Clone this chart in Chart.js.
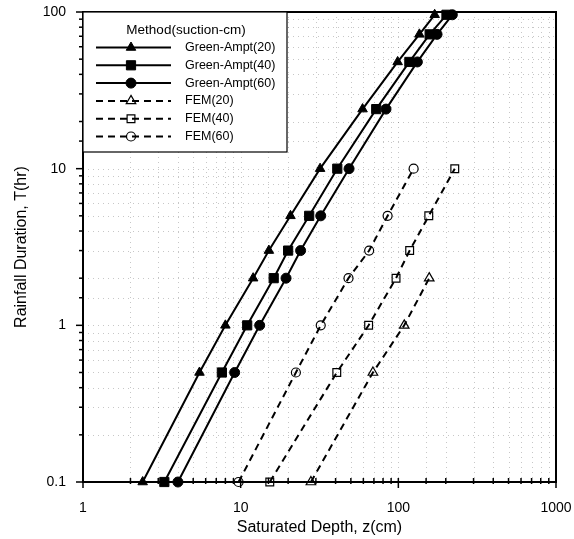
<!DOCTYPE html>
<html lang="en">
<head>
  <meta charset="UTF-8">
  <title>Saturated Depth vs Rainfall Duration</title>
  <script src="https://cdn.jsdelivr.net/npm/chart.js@4/dist/chart.umd.min.js"></script>
  <style>
    html, body { margin: 0; padding: 0; background: #fff; }
    #wrap { width: 574px; height: 539px; }
  </style>
</head>
<body>
  <div id="wrap"><canvas id="chart" width="574" height="539"></canvas></div>
  <script>
    // rainfall duration (hr)
    var gaDurations = [0.1, 0.5, 1, 2, 3, 5, 10, 24, 48, 72, 96];
    var femDurations = [0.1, 0.5, 1, 2, 3, 5, 10];

    // saturated depth (cm), Green-Ampt for each suction head
    var gaDepth20 = [2.39, 5.48, 8.0, 12.0, 15.1, 20.7, 31.9, 59.3, 99, 136, 170];
    var gaDepth40 = [3.28, 7.6, 11.0, 16.2, 20.0, 27.2, 41, 72.4, 117.5, 158, 202];
    var gaDepth60 = [4.0, 9.16, 13.2, 19.4, 24.0, 32.2, 48.7, 83.5, 132, 176, 220];

    // saturated depth (cm), FEM
    var femDepth20 = [27.9, 69, 109, 157];
    var femDepth40 = [15.3, 40.7, 64.8, 96.7, 118, 156, 228];
    var femDepth60 = [9.7, 22.4, 32.2, 48.3, 65.3, 85.5, 125];

    var xTickLabels = [1, 10, 100, 1000];
    var yTickLabels = [0.1, 1, 10, 100];

    var FONT = "'Liberation Sans', Arial, sans-serif";

    function pairs(depths, durations) {
      return depths.map(function (d, i) { return { x: d, y: durations[i] }; });
    }

    function isDecade(v) {
      var l = Math.log10(v);
      return Math.abs(l - Math.round(l)) < 1e-6;
    }

    function solid(label, data, style, radius) {
      return {
        label: label, data: data,
        borderColor: '#000', borderWidth: 2,
        pointStyle: style, pointRadius: radius,
        pointBackgroundColor: '#000', pointBorderColor: '#000', pointBorderWidth: 1,
        clip: false
      };
    }

    function dashed(label, data, style, radius) {
      return {
        label: label, data: data,
        borderColor: '#000', borderWidth: 2, borderDash: [7, 5],
        pointStyle: style, pointRadius: radius,
        pointBackgroundColor: 'rgba(0,0,0,0)', pointBorderColor: '#000', pointBorderWidth: 1.2,
        clip: false
      };
    }

    var datasets = [
      solid('Green-Ampt(20)', pairs(gaDepth20, gaDurations), 'triangle', 5.5),
      solid('Green-Ampt(40)', pairs(gaDepth40, gaDurations), 'rect', 6.5),
      solid('Green-Ampt(60)', pairs(gaDepth60, gaDurations), 'circle', 5),
      dashed('FEM(20)', pairs(femDepth20, femDurations), 'triangle', 5.5),
      dashed('FEM(40)', pairs(femDepth40, femDurations), 'rect', 5.5),
      dashed('FEM(60)', pairs(femDepth60, femDurations), 'circle', 4.5)
    ];

    function marker(ctx, style, x, y, r, filled) {
      ctx.beginPath();
      if (style === 'triangle') {
        ctx.moveTo(x, y - r);
        ctx.lineTo(x + r * 0.866, y + r * 0.5);
        ctx.lineTo(x - r * 0.866, y + r * 0.5);
        ctx.closePath();
      } else if (style === 'rect') {
        var s = r * Math.SQRT1_2;
        ctx.rect(x - s, y - s, 2 * s, 2 * s);
      } else {
        ctx.arc(x, y, r, 0, Math.PI * 2);
      }
      if (filled) { ctx.fillStyle = '#000'; ctx.fill(); }
      ctx.lineWidth = filled ? 1 : 1.2;
      ctx.strokeStyle = '#000';
      ctx.stroke();
    }

    // dotted grid, frame, ticks and the boxed legend
    var framePlugin = {
      id: 'frame',
      beforeDatasetsDraw: function (chart) {
        var ctx = chart.ctx, a = chart.chartArea;
        var xs = chart.scales.x, ys = chart.scales.y;
        ctx.save();
        ctx.strokeStyle = 'rgba(0,0,0,0.22)';
        ctx.lineWidth = 1;
        ctx.setLineDash([1, 4]);
        xs.ticks.forEach(function (t) {
          var px = Math.round(xs.getPixelForValue(t.value)) + 0.5;
          ctx.beginPath(); ctx.moveTo(px, a.top); ctx.lineTo(px, a.bottom); ctx.stroke();
        });
        ys.ticks.forEach(function (t) {
          var py = Math.round(ys.getPixelForValue(t.value)) + 0.5;
          ctx.beginPath(); ctx.moveTo(a.left, py); ctx.lineTo(a.right, py); ctx.stroke();
        });
        ctx.restore();
      },
      afterDatasetsDraw: function (chart) {
        var ctx = chart.ctx, a = chart.chartArea;
        var xs = chart.scales.x, ys = chart.scales.y;
        ctx.save();
        ctx.strokeStyle = '#000';
        ctx.lineWidth = 2;
        ctx.strokeRect(a.left, a.top, a.right - a.left, a.bottom - a.top);

        ctx.lineWidth = 1.5;
        xs.ticks.forEach(function (t) {
          var px = xs.getPixelForValue(t.value);
          var major = isDecade(t.value);
          ctx.beginPath();
          ctx.moveTo(px, a.bottom - 4);
          ctx.lineTo(px, a.bottom + (major ? 6 : 2));
          ctx.stroke();
        });
        ys.ticks.forEach(function (t) {
          var py = ys.getPixelForValue(t.value);
          var len = isDecade(t.value) ? 7 : 4;
          ctx.beginPath(); ctx.moveTo(a.left, py); ctx.lineTo(a.left - len, py); ctx.stroke();
        });

        // legend
        var bx = a.left, by = a.top, bw = 204, bh = 140;
        ctx.fillStyle = '#fff';
        ctx.fillRect(bx, by, bw, bh);
        ctx.lineWidth = 1.2;
        ctx.strokeRect(bx, by, bw, bh);

        ctx.fillStyle = '#000';
        ctx.font = '13.5px ' + FONT;
        ctx.textAlign = 'center';
        ctx.textBaseline = 'middle';
        ctx.fillText('Method(suction-cm)', bx + 103, by + 18);

        ctx.font = '12.5px ' + FONT;
        ctx.textAlign = 'left';
        datasets.forEach(function (ds, i) {
          var ry = by + 35.5 + i * 17.8;
          ctx.save();
          ctx.lineWidth = 2;
          ctx.strokeStyle = '#000';
          if (ds.borderDash) ctx.setLineDash([7, 5]);
          ctx.beginPath(); ctx.moveTo(bx + 13, ry); ctx.lineTo(bx + 88, ry); ctx.stroke();
          ctx.restore();
          marker(ctx, ds.pointStyle, bx + 48, ry, ds.pointRadius, !ds.borderDash);
          ctx.fillStyle = '#000';
          ctx.fillText(ds.label, bx + 102, ry);
        });
        ctx.restore();
      }
    };

    new Chart(document.getElementById('chart').getContext('2d'), {
      type: 'line',
      data: { datasets: datasets },
      options: {
        responsive: false,
        animation: false,
        layout: { padding: { top: 12, right: 18, left: 0, bottom: 0 } },
        plugins: { legend: { display: false }, tooltip: { enabled: false } },
        scales: {
          x: {
            type: 'logarithmic',
            min: 1, max: 1000,
            grid: { display: false },
            border: { display: false },
            ticks: {
              autoSkip: false, maxRotation: 0, padding: 10,
              color: '#000', font: { family: FONT, size: 14 },
              callback: function (v) {
                return xTickLabels.some(function (l) { return Math.abs(l - v) < 1e-9; }) ? String(v) : '';
              }
            },
            title: {
              display: true, text: 'Saturated Depth, z(cm)',
              color: '#000', font: { family: FONT, size: 16 },
              padding: { top: 0, bottom: 2 }
            },
            afterFit: function (s) { s.height = 57; s.paddingLeft = 0; s.paddingRight = 0; }
          },
          y: {
            type: 'logarithmic',
            min: 0.1, max: 100,
            grid: { display: false },
            border: { display: false },
            ticks: {
              autoSkip: false, padding: 9,
              color: '#000', font: { family: FONT, size: 14 },
              callback: function (v) {
                var hit = yTickLabels.filter(function (l) { return Math.abs(l - v) < 1e-9; });
                return hit.length ? String(hit[0]) : '';
              }
            },
            title: {
              display: true, text: 'Rainfall Duration, T(hr)',
              color: '#000', font: { family: FONT, size: 16 },
              padding: { top: 12, bottom: 0 }
            },
            afterFit: function (s) { s.width = 83; s.paddingTop = 0; s.paddingBottom = 0; }
          }
        }
      },
      plugins: [framePlugin]
    });
  </script>
</body>
</html>
